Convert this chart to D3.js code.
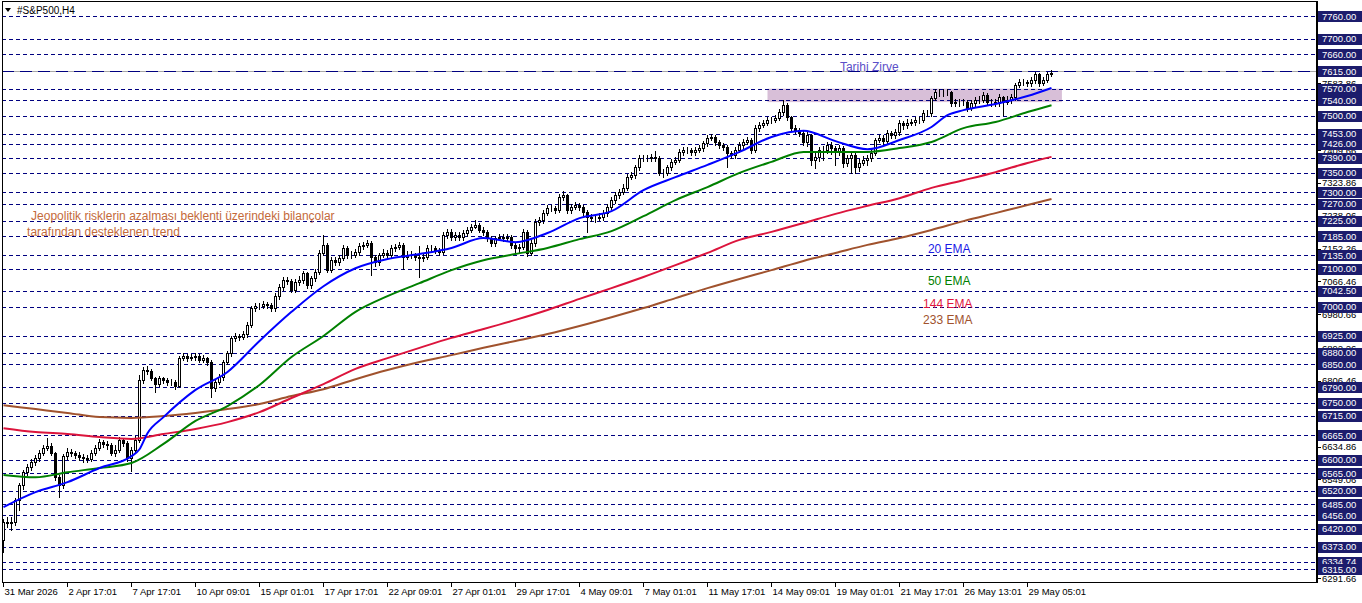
<!DOCTYPE html>
<html><head><meta charset="utf-8">
<script src="https://cdn.jsdelivr.net/npm/d3@7"></script>
<style>body{margin:0;background:#fff;}svg{display:block;font-family:"Liberation Sans",Arial,sans-serif;}</style>
</head><body><svg id="c" width="1362" height="603"></svg>
<script>
// ---- data ----
const firstOpen = 6391;
const closes = [
6438,6435,6438,6495,6534,6568,6582,6595,6605,6618,
6631,6636,6618,6555,6534,6610,6621,6618,6613,6608,
6605,6602,6618,6631,6647,6642,6639,6618,6626,6652,
6644,6605,6626,6652,6809,6835,6832,6814,6798,6814,
6809,6804,6804,6793,6866,6872,6866,6869,6872,6861,
6866,6856,6788,6804,6817,6856,6879,6919,6924,6921,
6929,6953,6997,7002,7002,7007,7005,6997,7028,7052,
7070,7068,7044,7065,7070,7088,7057,7075,7091,7141,
7162,7096,7122,7117,7128,7154,7136,7136,7143,7159,
7162,7167,7130,7117,7136,7141,7136,7154,7156,7162,
7130,7136,7136,7130,7128,7130,7154,7154,7149,7143,
7188,7196,7183,7188,7183,7193,7201,7209,7214,7201,
7196,7180,7167,7180,7183,7180,7183,7162,7154,7156,
7196,7141,7167,7222,7227,7245,7258,7258,7253,7287,
7292,7253,7261,7266,7261,7248,7235,7232,7232,7235,
7245,7261,7279,7292,7300,7311,7339,7344,7365,7389,
7389,7389,7392,7389,7350,7350,7365,7379,7384,7405,
7410,7410,7405,7410,7415,7428,7441,7444,7431,7423,
7418,7402,7397,7410,7423,7431,7436,7410,7467,7475,
7480,7488,7488,7494,7509,7528,7496,7467,7462,7454,
7431,7449,7384,7392,7410,7410,7423,7415,7405,7415,
7376,7389,7397,7365,7376,7384,7389,7402,7436,7441,
7433,7454,7449,7457,7480,7475,7480,7483,7488,7488,
7507,7507,7546,7561,7561,7561,7561,7533,7535,7535,
7535,7520,7533,7541,7541,7554,7535,7535,7533,7548,
7535,7541,7548,7580,7588,7588,7585,7593,7608,7585,
7593,7608,7611];
const highs = [
6446,6450,6452,6500,6540,6575,6590,6603,6612,6625,
6640,6657,6645,6622,6560,6615,6632,6628,6624,6620,
6615,6612,6625,6638,6655,6652,6650,6645,6640,6660,
6658,6650,6634,6662,6822,6842,6845,6838,6818,6820,
6818,6814,6812,6810,6872,6880,6878,6876,6880,6876,
6874,6870,6860,6812,6824,6862,6886,6925,6932,6930,
6936,6960,7003,7010,7010,7015,7014,7010,7035,7060,
7078,7078,7074,7072,7080,7095,7092,7082,7098,7148,
7188,7166,7130,7130,7136,7162,7158,7145,7152,7166,
7170,7176,7172,7136,7142,7150,7148,7162,7165,7170,
7168,7145,7145,7142,7160,7140,7162,7162,7160,7155,
7195,7204,7203,7196,7195,7200,7208,7216,7227,7220,
7208,7200,7185,7186,7190,7190,7190,7188,7168,7165,
7203,7200,7175,7230,7236,7252,7266,7266,7263,7294,
7302,7296,7268,7274,7272,7266,7252,7242,7240,7244,
7252,7268,7286,7300,7308,7320,7346,7352,7372,7396,
7398,7397,7400,7406,7394,7360,7372,7386,7392,7412,
7418,7418,7416,7418,7422,7434,7448,7452,7450,7436,
7428,7422,7408,7418,7430,7438,7444,7440,7474,7482,
7488,7495,7496,7502,7516,7541,7534,7500,7474,7468,
7460,7456,7452,7402,7418,7420,7432,7430,7420,7424,
7420,7398,7406,7402,7386,7394,7398,7410,7442,7450,
7448,7462,7460,7466,7488,7486,7490,7492,7496,7496,
7514,7515,7552,7568,7570,7568,7568,7565,7544,7542,
7544,7540,7540,7548,7550,7562,7558,7544,7542,7556,
7552,7550,7556,7586,7596,7596,7594,7600,7614,7612,
7600,7614,7618];
const lows = [
6360,6425,6418,6430,6470,6525,6560,6575,6588,6598,
6612,6625,6612,6548,6503,6528,6602,6610,6605,6600,
6596,6594,6597,6612,6625,6634,6630,6612,6610,6620,
6636,6598,6570,6620,6648,6802,6825,6808,6777,6792,
6802,6797,6796,6786,6790,6860,6858,6860,6862,6855,
6855,6848,6764,6780,6798,6810,6850,6872,6912,6914,
6915,6922,6948,6990,6994,6996,6998,6990,6990,7020,
7045,7060,7038,7038,7058,7063,7050,7050,7068,7085,
7135,7090,7090,7110,7110,7122,7128,7128,7130,7136,
7152,7156,7083,7108,7110,7130,7128,7130,7146,7150,
7100,7125,7128,7122,7078,7120,7125,7146,7140,7136,
7138,7180,7176,7176,7176,7176,7186,7195,7205,7195,
7188,7172,7158,7160,7174,7172,7174,7155,7140,7140,
7150,7133,7135,7160,7215,7220,7240,7250,7246,7248,
7280,7246,7246,7255,7254,7240,7196,7224,7222,7226,
7228,7238,7255,7272,7285,7294,7305,7333,7338,7358,
7380,7381,7382,7380,7344,7340,7344,7358,7374,7378,
7398,7402,7398,7398,7405,7408,7420,7435,7424,7416,
7410,7365,7388,7390,7404,7416,7425,7402,7405,7460,
7470,7474,7480,7484,7488,7502,7488,7460,7454,7446,
7424,7420,7370,7362,7380,7385,7402,7400,7370,7398,
7365,7368,7350,7350,7355,7370,7372,7380,7396,7430,
7426,7428,7440,7442,7450,7466,7468,7474,7476,7480,
7482,7498,7500,7540,7552,7552,7553,7526,7526,7526,
7527,7512,7514,7526,7532,7535,7528,7526,7524,7526,
7501,7530,7534,7540,7574,7580,7576,7578,7586,7578,
7580,7588,7604];

const ema20Bars = [0,8,16,24,32,34,36,40,48,56,64,72,80,88,96,104,112,120,128,136,144,152,160,168,176,184,192,200,208,216,224,232,236,240,248,256,262];
const ema20 = [6477,6516,6542,6579,6610,6628,6670,6712,6783,6830,6911,6987,7054,7101,7125,7138,7154,7180,7169,7193,7232,7250,7305,7339,7371,7405,7444,7460,7433,7412,7436,7470,7501,7514,7530,7551,7572];
const emaBars = [0,8,16,24,32,40,48,56,64,72,80,88,96,104,112,120,128,136,144,152,160,168,176,184,192,200,208,216,224,232,240,248,256,262];
const ema50 = [6561,6555,6568,6579,6592,6642,6702,6741,6796,6869,6924,6987,7028,7062,7096,7122,7138,7154,7177,7198,7237,7279,7313,7350,7379,7405,7405,7405,7415,7431,7467,7483,7509,7527];
const ema144 = [6683,6673,6668,6660,6655,6668,6681,6699,6725,6762,6798,6838,6866,6893,6919,6942,6966,6992,7021,7049,7078,7109,7141,7175,7196,7219,7243,7264,7284,7311,7331,7352,7376,7392];
const ema233 = [6743,6733,6723,6712,6710,6715,6723,6733,6746,6767,6785,6811,6835,6856,6874,6893,6911,6929,6950,6973,6997,7023,7049,7073,7096,7120,7141,7162,7180,7201,7224,7245,7266,7282];

const levelPrices = [7760,7700,7660,7615,7570,7540,7500,7453,7426,7390,7350,7300,7270,7225,7185,7135,7100,7042.5,7000,6925,6880,6850,6790,6750,6715,6665,6600,6565,6520,6485,6456,6420,6373,6334.74,6315];
const athPrice = 7615;
const scaleLabels = [6291.66,6549.06,6634.86,6806.46,6892.26,6980.66,7066.46,7152.26,7238.06,7323.86,7409.66,7583.86];
const timeLabels = ["31 Mar 2026","2 Apr 17:01","7 Apr 17:01","10 Apr 09:01","15 Apr 01:01","17 Apr 17:01","22 Apr 09:01","27 Apr 01:01","29 Apr 17:01","4 May 09:01","7 May 01:01","11 May 17:01","14 May 09:01","19 May 01:01","21 May 17:01","26 May 13:01","29 May 05:01"];
const timeLabelBars = [0,16,32,48,64,80,96,112,128,144,160,176,192,208,224,240,256];
const zone = {fromBar:191, toBar:264.6, top:7570, bottom:7535};
const notes = [
  {text:"Tarihi Zirve", bar:209.1, price:7616, color:"#5b4fc8"},
  {text:"Jeopolitik risklerin azalması beklenti üzerindeki bilançolar", bar:6.9, price:7227, color:"#c46a3a"},
  {text:"tarafından desteklenen trend", bar:5.9, price:7185.5, color:"#c46a3a"},
  {text:"20 EMA", bar:231.1, price:7142, color:"#1a1ae6"},
  {text:"50 EMA", bar:231.1, price:7058, color:"#008000"},
  {text:"144 EMA", bar:229.9, price:6997, color:"#e0143c"},
  {text:"233 EMA", bar:229.9, price:6954, color:"#a0522d"}
];

// ---- scales ----
const svg = d3.select("#c");
const L = 2, R = 1316, T = 1, B = 582;
const x = d3.scaleLinear().domain([0, 328]).range([3.5, 1315.5]);
const y = d3.scaleLinear().domain([6291.66, 7760]).range([578, 16]);
const py = v => Math.round(y(v)) + 0.5;

svg.append("rect").attr("width",1362).attr("height",603).attr("fill","#fff");
svg.append("clipPath").attr("id","clip").append("rect").attr("x",L).attr("y",T).attr("width",R-L).attr("height",B-T);
const plot = svg.append("g").attr("clip-path","url(#clip)");

// zone rectangle
plot.append("rect")
  .attr("x", x(zone.fromBar)).attr("width", x(zone.toBar)-x(zone.fromBar))
  .attr("y", y(zone.top)).attr("height", y(zone.bottom)-y(zone.top))
  .attr("fill","#d8bfd8");

// horizontal level lines
plot.selectAll("line.lvl").data(levelPrices.filter(v=>v!==athPrice)).join("line")
  .attr("x1",L).attr("x2",R).attr("y1",d=>py(d)).attr("y2",d=>py(d))
  .attr("stroke","#000080").attr("stroke-width",1).attr("stroke-dasharray","4,3");
plot.append("line").attr("x1",L).attr("x2",R).attr("y1",py(athPrice)).attr("y2",py(athPrice))
  .attr("stroke","#a8a8a8").attr("stroke-width",1);
plot.append("line").attr("x1",L).attr("x2",R).attr("y1",py(athPrice)).attr("y2",py(athPrice))
  .attr("stroke","#000080").attr("stroke-width",1).attr("stroke-dasharray","12,6");

// candles
const bars = closes.map((c,i)=>({i, o: i===0?firstOpen:closes[i-1], c, h: highs[i], l: lows[i]}));
const cg = plot.append("g");
cg.selectAll("line.w").data(bars).join("line")
  .attr("x1",d=>x(d.i)).attr("x2",d=>x(d.i))
  .attr("y1",d=>Math.round(y(d.h))).attr("y2",d=>Math.round(y(d.l))+1)
  .attr("stroke","#000").attr("stroke-width",1);
cg.selectAll("rect.b").data(bars).join("rect")
  .attr("x",d=>x(d.i)-1).attr("width",2)
  .attr("y",d=>Math.round(y(Math.max(d.o,d.c)))+0.5)
  .attr("height",d=>Math.max(0, Math.round(y(Math.min(d.o,d.c)))-Math.round(y(Math.max(d.o,d.c)))))
  .attr("fill",d=>d.c>=d.o?"#fff":"#000").attr("stroke","#000").attr("stroke-width",1);

// EMAs
const line = d3.line().x(d=>x(d[0])).y(d=>y(d[1])).curve(d3.curveMonotoneX);
const emaSeries = [
  {bars:emaBars, vals:ema233, color:"#a0522d"},
  {bars:emaBars, vals:ema144, color:"#dc143c"},
  {bars:emaBars, vals:ema50, color:"#008000"},
  {bars:ema20Bars, vals:ema20, color:"#0000ff"}
];
emaSeries.forEach(s=>{
  plot.append("path").datum(s.bars.map((b,k)=>[b,s.vals[k]]))
    .attr("d",line).attr("fill","none").attr("stroke",s.color).attr("stroke-width",2);
});

// notes
plot.selectAll("text.note").data(notes).join("text")
  .attr("x",d=>x(d.bar)).attr("y",d=>y(d.price))
  .attr("fill",d=>d.color).attr("font-size","12px").text(d=>d.text);

// title
svg.append("path").attr("d","M5,8 L11,8 L8,12 Z").attr("fill","#000");
svg.append("text").attr("x",17).attr("y",14).attr("font-size","10px").attr("fill","#000").text("#S&P500,H4");

// frame
svg.append("rect").attr("x",L+0.5).attr("y",T+0.5).attr("width",R-L).attr("height",B-T)
  .attr("fill","none").attr("stroke","#000").attr("stroke-width",1);
svg.append("line").attr("x1",R+1).attr("x2",R+1).attr("y1",T).attr("y2",B+1).attr("stroke","#000").attr("stroke-width",2);

// right price scale
const ax = svg.append("g").attr("font-size","9.5px");
ax.selectAll("line.t").data(scaleLabels.concat(levelPrices)).join("line")
  .attr("x1",R+1).attr("x2",R+5).attr("y1",d=>py(d)).attr("y2",d=>py(d)).attr("stroke","#000");
ax.selectAll("text.s").data(scaleLabels).join("text")
  .attr("x",R+6).attr("y",d=>y(d)+3.5).attr("fill","#000").text(d=>d.toFixed(2));
const lb = ax.selectAll("g.lb").data(levelPrices).join("g");
lb.append("rect").attr("x",R+2).attr("y",d=>Math.round(y(d))-5).attr("width",46).attr("height",11).attr("fill","#1c1c6c");
lb.append("text").attr("x",R+6).attr("y",d=>y(d)+3.5).attr("fill","#fff").text(d=>d.toFixed(2));

// time scale
const tx = svg.append("g").attr("font-size","9.5px");
tx.selectAll("line").data(timeLabelBars).join("line")
  .attr("x1",d=>Math.round(x(d))-0.5).attr("x2",d=>Math.round(x(d))-0.5).attr("y1",B).attr("y2",B+5).attr("stroke","#000");
tx.selectAll("text").data(timeLabelBars).join("text")
  .attr("x",d=>x(d)+1).attr("y",595).attr("fill","#000").text((d,k)=>timeLabels[k]);
</script></body></html>
